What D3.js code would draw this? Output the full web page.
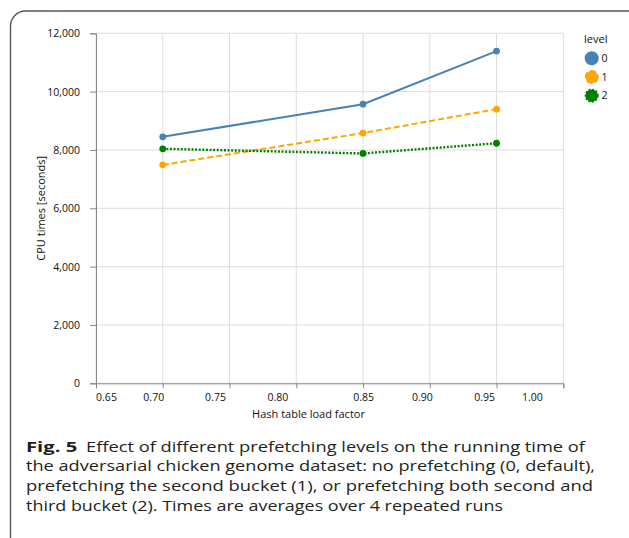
<!DOCTYPE html>
<html>
<head>
<meta charset="utf-8">
<script src="https://cdn.jsdelivr.net/npm/d3@7"></script>
<style>
  html, body { margin: 0; padding: 0; background: #fff; }
  svg { display: block; }
  text { font-family: "Open Sans", "Noto Sans", sans-serif; }
</style>
</head>
<body>
<svg id="chart" width="629" height="538"></svg>
<script>
// ---- data ----
const loadFactors = [0.70, 0.85, 0.95];
const levels = ["0", "1", "2"];
const level0 = [8450, 9570, 11390];
const level1 = [7490, 8580, 9400];
const level2 = [8040, 7880, 8230];
const xTicks = [0.65, 0.70, 0.75, 0.80, 0.85, 0.90, 0.95, 1.00];
const yTicks = [0, 2000, 4000, 6000, 8000, 10000, 12000];
const xTitle = "Hash table load factor";
const yTitle = "CPU times [seconds]";
const legendTitle = "level";
const captionBold = "Fig. 5";
const captionLines = [
  "Effect of different prefetching levels on the running time of",
  "the adversarial chicken genome dataset: no prefetching (0, default),",
  "prefetching the second bucket (1), or prefetching both second and",
  "third bucket (2). Times are averages over 4 repeated runs"
];

// ---- styles ----
const colors = ["#4682b4", "#ffa500", "#008000"];
const dashes = [null, "6,3", "2,1.6"];
const widths = [2, 2, 2.4];
const series = [level0, level1, level2];
// label horizontal offsets (as placed in the reference)
const xLabelOffsets = [10, -9.5, -14.5, -19, 0, -8, -12.5, -31.5];

const svg = d3.select("#chart");

// frame
svg.append("rect")
  .attr("x", 10.5).attr("y", 11).attr("width", 660).attr("height", 600)
  .attr("rx", 15).attr("ry", 15)
  .attr("fill", "none").attr("stroke", "#555").attr("stroke-width", 1.4);

const margin = { left: 96, top: 33.3, right: 563.3, bottom: 383.3 };
const x = d3.scaleLinear().domain([0.65, 1.00]).range([margin.left, margin.right]);
const y = d3.scaleLinear().domain([0, 12000]).range([margin.bottom, margin.top]);

const g = svg.append("g");

// grid
g.append("g").selectAll("line").data(xTicks).join("line")
  .attr("x1", d => x(d)).attr("x2", d => x(d))
  .attr("y1", y(0)).attr("y2", y(12000))
  .attr("stroke", "#ddd").attr("stroke-width", 1);
g.append("g").selectAll("line").data(yTicks).join("line")
  .attr("x1", x(0.65)).attr("x2", x(1.0))
  .attr("y1", d => y(d)).attr("y2", d => y(d))
  .attr("stroke", "#ddd").attr("stroke-width", 1);

// axes
const xAxis = d3.axisBottom(x).tickValues(xTicks).tickFormat(d3.format(".2f"))
  .tickSize(5).tickPadding(5);
const xg = g.append("g").attr("transform", `translate(0,${y(0)})`).call(xAxis);
xg.selectAll("text").attr("dx", (d, i) => xLabelOffsets[i]);

const yAxis = d3.axisLeft(y).tickValues(yTicks).tickFormat(d3.format(","))
  .tickSize(6).tickPadding(10);
const yg = g.append("g").attr("transform", `translate(${x(0.65)},0)`).call(yAxis);

[xg, yg].forEach(a => {
  a.select(".domain").attr("stroke", "#888").attr("stroke-width", 1);
  a.selectAll(".tick line").attr("stroke", "#888");
  a.selectAll("text").attr("font-size", 10.5).attr("fill", "#111")
    .attr("font-family", "'Open Sans', sans-serif");
});

// axis titles
g.append("text")
  .attr("x", 308.5).attr("y", 414).attr("dy", "0.35em")
  .attr("text-anchor", "middle").attr("font-size", 11).attr("fill", "#111")
  .text(xTitle);
g.append("text")
  .attr("transform", `translate(41.5,${(margin.top + margin.bottom) / 2}) rotate(-90)`)
  .attr("dy", "0.35em")
  .attr("text-anchor", "middle").attr("font-size", 11).attr("fill", "#111")
  .text(yTitle);

// lines & points
const line = d3.line().x((d, i) => x(loadFactors[i])).y(d => y(d));
series.forEach((s, k) => {
  g.append("path").datum(s)
    .attr("d", line)
    .attr("fill", "none")
    .attr("stroke", colors[k])
    .attr("stroke-width", widths[k])
    .attr("stroke-dasharray", dashes[k]);
});
series.forEach((s, k) => {
  g.append("g").selectAll("circle").data(s).join("circle")
    .attr("cx", (d, i) => x(loadFactors[i]))
    .attr("cy", d => y(d))
    .attr("r", 3.4)
    .attr("fill", colors[k]);
});

// legend
const lg = svg.append("g");
lg.append("text").attr("x", 584).attr("y", 39).attr("dy", "0.35em")
  .attr("font-size", 11).attr("fill", "#111").text(legendTitle);
const ly = d3.scalePoint().domain(levels).range([58.3, 95.7]);
levels.forEach((lv, k) => {
  lg.append("circle")
    .attr("cx", 591.7).attr("cy", ly(lv)).attr("r", 6.2)
    .attr("fill", colors[k])
    .attr("stroke", colors[k]).attr("stroke-width", 1.6)
    .attr("stroke-dasharray", dashes[k]);
  lg.append("text").attr("x", 601.5).attr("y", ly(lv)).attr("dy", "0.35em")
    .attr("font-size", 10.5).attr("fill", "#111").text(lv);
});

// caption
const cap = svg.append("g");
const capY = [446.7, 466.2, 485.8, 505.3];
const capEnds = [585, 595, 593, 503];
const t0 = cap.append("text").attr("x", 26).attr("y", capY[0]).attr("dy", "0.35em")
  .attr("font-size", 15).attr("fill", "#231f20").attr("font-family", "Lato, sans-serif");
t0.append("tspan").attr("font-weight", "bold").text(captionBold)
  .attr("textLength", 51.3).attr("lengthAdjust", "spacingAndGlyphs");
t0.append("tspan").attr("x", 86).text(captionLines[0])
  .attr("textLength", capEnds[0] - 86).attr("lengthAdjust", "spacingAndGlyphs");
for (let i = 1; i < 4; i++) {
  cap.append("text").attr("x", 26).attr("y", capY[i]).attr("dy", "0.35em")
    .attr("font-size", 15).attr("fill", "#231f20").attr("font-family", "Lato, sans-serif")
    .attr("textLength", capEnds[i] - 26).attr("lengthAdjust", "spacingAndGlyphs")
    .text(captionLines[i]);
}
</script>
</body>
</html>
